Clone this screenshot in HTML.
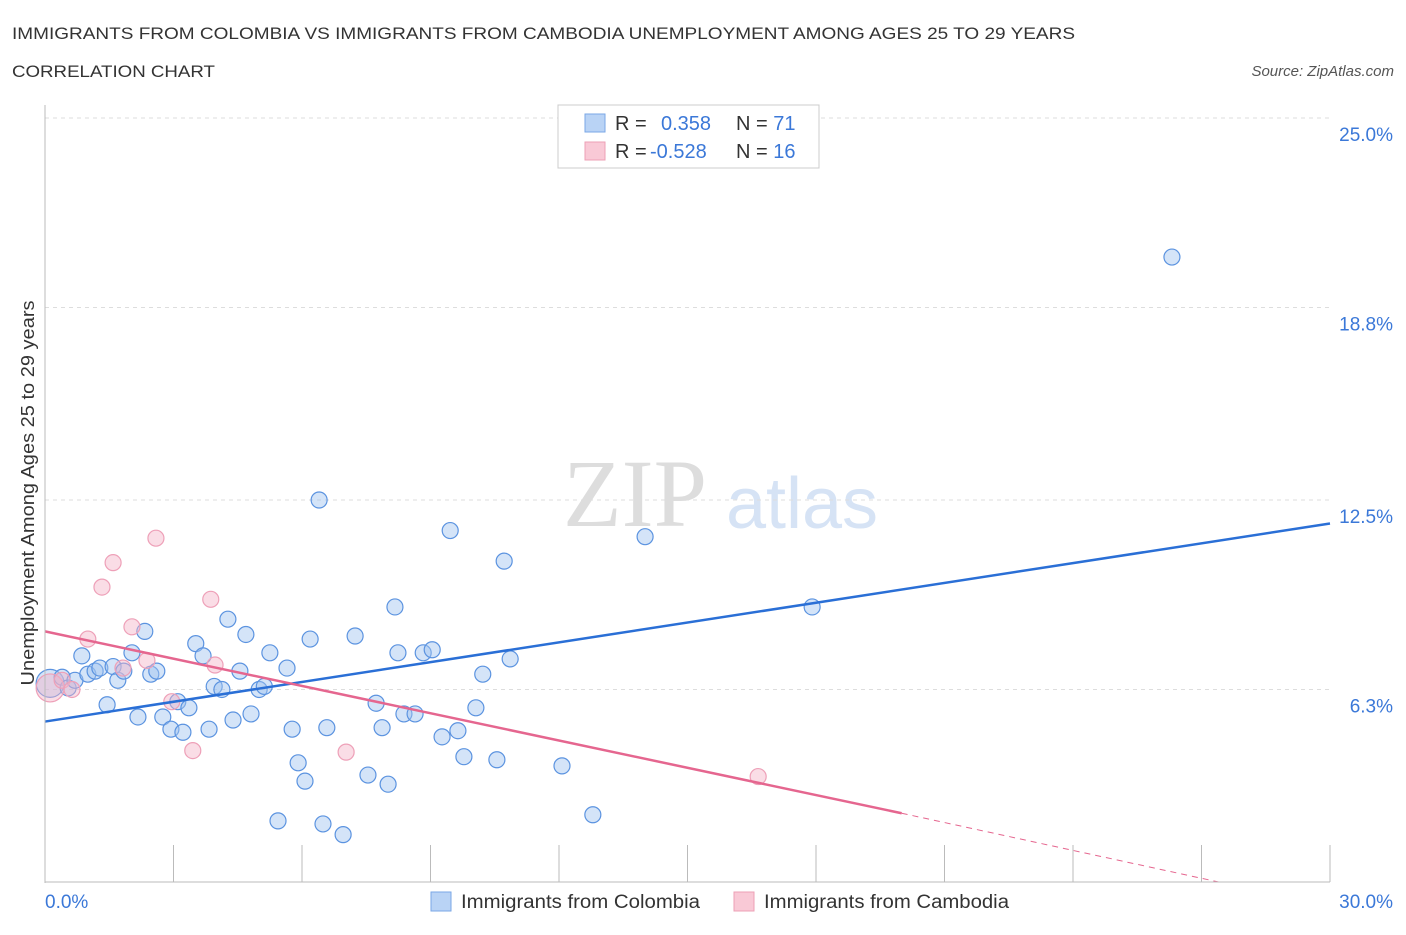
<!DOCTYPE html>
<html><head><meta charset="utf-8"><style>
body{margin:0;background:#fff;font-family:"Liberation Sans",sans-serif;}
</style></head><body>
<svg id="c" width="1406" height="930" xmlns="http://www.w3.org/2000/svg">
<text x="12" y="39" font-size="17" fill="#333" textLength="1063" lengthAdjust="spacingAndGlyphs">IMMIGRANTS FROM COLOMBIA VS IMMIGRANTS FROM CAMBODIA UNEMPLOYMENT AMONG AGES 25 TO 29 YEARS</text>
<text x="12" y="77" font-size="17" fill="#333" textLength="203" lengthAdjust="spacingAndGlyphs">CORRELATION CHART</text>
<text x="1394" y="76" font-size="15" fill="#555" font-style="italic" text-anchor="end">Source: ZipAtlas.com</text>
<text x="635" y="526" font-size="96" fill="#ddd" font-family="Liberation Serif" text-anchor="middle">ZIP</text>
<text x="802" y="528" font-size="72" fill="#d6e3f5" text-anchor="middle">atlas</text>
<g id="grid"></g><g id="pts"></g><g id="lines"></g>
<line x1="45" y1="105" x2="45" y2="883" stroke="#bbb"/>
<line x1="45" y1="882" x2="1330" y2="882" stroke="#bbb"/>
<text transform="translate(34,493) rotate(-90)" font-size="18" fill="#333" text-anchor="middle" textLength="385" lengthAdjust="spacingAndGlyphs">Unemployment Among Ages 25 to 29 years</text>
<text x="45" y="908" font-size="19" fill="#3b78d8">0.0%</text>
<text x="1393" y="908" font-size="19" fill="#3b78d8" text-anchor="end">30.0%</text>
<g>
<rect x="558" y="105" width="261" height="63" fill="#fff" stroke="#ccc"/>
<rect x="585" y="114" width="20" height="18" fill="#b9d3f5" stroke="#7aa7e6"/>
<rect x="585" y="142" width="20" height="18" fill="#f9c9d6" stroke="#eda0b6"/>
<text x="615" y="130" font-size="20" fill="#333">R = <tspan fill="#3b78d8" x="661">0.358</tspan><tspan x="736" fill="#333">N = </tspan><tspan fill="#3b78d8">71</tspan></text>
<text x="615" y="158" font-size="20" fill="#333">R = <tspan fill="#3b78d8" x="650">-0.528</tspan><tspan x="736" fill="#333">N = </tspan><tspan fill="#3b78d8">16</tspan></text>
</g>
<g>
<rect x="431" y="892" width="20" height="19" fill="#b9d3f5" stroke="#7aa7e6"/>
<text x="461" y="908" font-size="19" fill="#333" textLength="239" lengthAdjust="spacingAndGlyphs">Immigrants from Colombia</text>
<rect x="734" y="892" width="20" height="19" fill="#f9c9d6" stroke="#eda0b6"/>
<text x="764" y="908" font-size="19" fill="#333" textLength="245" lengthAdjust="spacingAndGlyphs">Immigrants from Cambodia</text>
</g>
</svg>
<script>
const yTicks=[25.0,18.8,12.5,6.3];
const yTickLabels=["25.0%","18.8%","12.5%","6.3%"];
const xTicks=[3,6,9,12,15,18,21,24,27,30];
const blueX=[0.12,0.4,0.54,0.7,0.86,1.0,1.17,1.28,1.45,1.59,1.7,1.84,2.03,2.17,2.33,2.47,2.61,2.75,2.94,3.1,3.22,3.36,3.52,3.69,3.83,3.95,4.13,4.27,4.39,4.55,4.69,4.81,5.0,5.12,5.25,5.44,5.65,5.77,5.91,6.07,6.19,6.4,6.49,6.58,6.96,7.24,7.54,7.73,7.87,8.01,8.17,8.24,8.38,8.64,8.83,9.04,9.27,9.46,9.64,9.78,10.06,10.22,10.55,10.72,10.86,12.07,12.79,14.01,17.91,26.31];
const blueY=[6.5,6.7,6.35,6.6,7.4,6.8,6.9,7.0,5.8,7.05,6.6,6.9,7.5,5.4,8.2,6.8,6.9,5.4,5.0,5.9,4.9,5.7,7.8,7.4,5.0,6.4,6.3,8.6,5.3,6.9,8.1,5.5,6.3,6.4,7.5,2.0,7.0,5.0,3.9,3.3,7.95,12.5,1.9,5.05,1.55,8.05,3.5,5.85,5.05,3.2,9.0,7.5,5.5,5.5,7.5,7.6,4.75,11.5,4.95,4.1,5.7,6.8,4.0,10.5,7.3,3.8,2.2,11.3,9.0,20.45];
const pinkX=[0.12,0.4,0.63,1.0,1.33,1.59,1.82,2.03,2.38,2.59,2.96,3.45,3.87,3.97,7.03,16.65];
const pinkY=[6.35,6.6,6.3,7.95,9.65,10.45,7.0,8.35,7.25,11.25,5.9,4.3,9.25,7.1,4.25,3.45];
const blueFit=[[0,5.25],[30,11.73]];
const pinkFit=[[0,8.2],[20,2.25],[27.4,0]];
const X=v=>45+v/30*1285, Y=v=>882-v*30.56;
const NS="http://www.w3.org/2000/svg";
function mk(t,a,p){const e=document.createElementNS(NS,t);for(const k in a)e.setAttribute(k,a[k]);p.appendChild(e);return e;}
const g=document.getElementById('grid');
yTicks.forEach((t,i)=>{
 const l=mk('line',{x1:45,x2:1330,y1:Y(t),y2:Y(t),stroke:'#ddd','stroke-dasharray':'4,4'},g);
 
 
 const tx=mk('text',{x:1393,y:Y(t)+23,'font-size':19,fill:'#3b78d8','text-anchor':'end'},g);
 tx.textContent=yTickLabels[i];
 
 
});
xTicks.forEach(t=>{
 const l=mk('line',{x1:X(t),x2:X(t),y1:845,y2:882,stroke:'#bbb'},g);
 
 
});
const p=document.getElementById('pts');
blueX.forEach((v,i)=>{
 const c=mk('circle',{cx:X(v),cy:Y(blueY[i]),r:i==0?14:8,fill:'rgba(160,196,240,0.45)',stroke:'#5b93e0','stroke-width':1.2},p);
 
 
});
pinkX.forEach((v,i)=>{
 const c=mk('circle',{cx:X(v),cy:Y(pinkY[i]),r:i==0?14:8,fill:'rgba(245,180,200,0.45)',stroke:'#eea0b8','stroke-width':1.2},p);
 
 
});
const L=document.getElementById('lines');
const bl=mk('line',{x1:X(blueFit[0][0]),y1:Y(blueFit[0][1]),x2:X(blueFit[1][0]),y2:Y(blueFit[1][1]),stroke:'#2a6fd6','stroke-width':2.5},L);


const pl=mk('line',{x1:X(pinkFit[0][0]),y1:Y(pinkFit[0][1]),x2:X(pinkFit[1][0]),y2:Y(pinkFit[1][1]),stroke:'#e5668f','stroke-width':2.5},L);


const pd=mk('line',{x1:X(pinkFit[1][0]),y1:Y(pinkFit[1][1]),x2:X(pinkFit[2][0]),y2:Y(pinkFit[2][1]),stroke:'#e5668f','stroke-width':1,'stroke-dasharray':'6,5'},L);


</script>
</body></html>
